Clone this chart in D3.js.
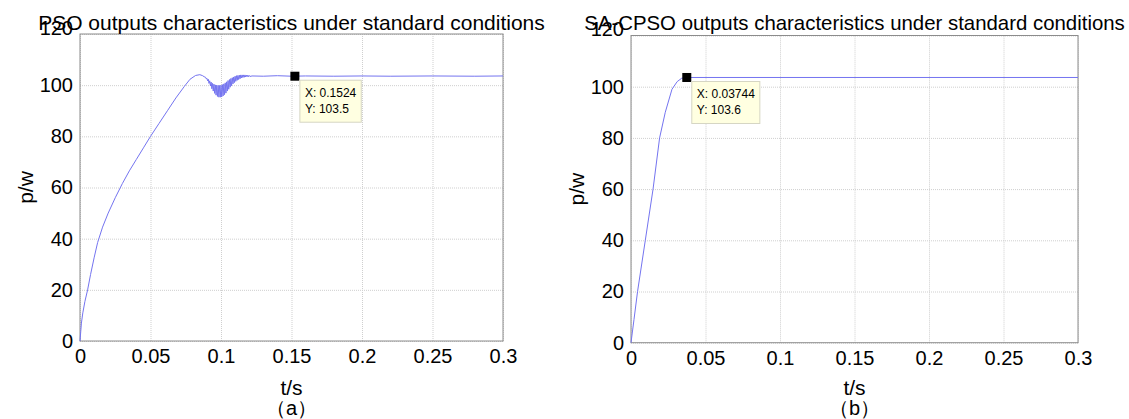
<!DOCTYPE html>
<html>
<head>
<meta charset="utf-8">
<script src="https://cdn.jsdelivr.net/npm/d3@7"></script>
<style>
  body { margin: 0; background: #fff; }
  svg { display: block; font-family: "Liberation Sans", Arial, sans-serif; }
</style>
</head>
<body>
<svg id="chart" width="1129" height="419"></svg>
<script>
const W = 1129, H = 419

// axis ticks
const xTicks = [0, 0.05, 0.1, 0.15, 0.2, 0.25, 0.3]
const xTickLabels = ["0", "0.05", "0.1", "0.15", "0.2", "0.25", "0.3"]
const yTicks = [0, 20, 40, 60, 80, 100, 120]

// PSO output, rise + peak (t in s, p in W)
const psoT = [0, 0.001, 0.002, 0.0035, 0.0054, 0.0075, 0.010, 0.0125, 0.016, 0.020, 0.025, 0.030,
  0.035, 0.040, 0.045, 0.050, 0.056, 0.062, 0.068, 0.074, 0.078, 0.082, 0.085, 0.087, 0.088]
const psoP = [0, 7, 11, 15.5, 20, 26, 32.5, 38.5, 44.5, 50, 56, 61.5,
  66.5, 71, 75.5, 80, 85, 90, 95, 99.5, 102.3, 103.8, 104.1, 103.7, 103.3]

// PSO oscillating dip around t = 0.1 (upper / lower swing of each ripple)
const dipT = [0.089, 0.090, 0.091, 0.092, 0.093, 0.094, 0.095, 0.096, 0.097, 0.098, 0.099, 0.100,
  0.101, 0.102, 0.103, 0.104, 0.105, 0.106, 0.107, 0.108, 0.109, 0.110, 0.111, 0.112,
  0.113, 0.114, 0.115, 0.116, 0.117, 0.118, 0.119, 0.120]
const dipHi = [103.1, 102.7, 102.3, 101.7, 101.2, 100.7, 100.4, 100.1, 100.0, 99.9, 99.9, 100.0,
  100.2, 100.5, 100.9, 101.3, 101.8, 102.2, 102.6, 102.9, 103.2, 103.5, 103.7, 103.8,
  103.9, 104.0, 104.0, 104.0, 104.0, 103.9, 103.9, 103.8]
const dipLo = [102.5, 101.7, 100.7, 99.7, 98.6, 97.7, 96.8, 96.1, 95.6, 95.3, 95.3, 95.4,
  95.8, 96.3, 96.9, 97.7, 98.4, 99.2, 99.8, 100.5, 101.0, 101.5, 101.9, 102.2,
  102.5, 102.8, 103.0, 103.1, 103.2, 103.3, 103.3, 103.4]

// PSO steady state
const psoTailT = [0.122, 0.13, 0.14, 0.15, 0.16, 0.18, 0.2, 0.22, 0.25, 0.28, 0.3]
const psoTailP = [103.6, 103.5, 103.7, 103.5, 103.6, 103.5, 103.6, 103.5, 103.6, 103.5, 103.6]

// SA-CPSO output
const saT = [0, 0.002, 0.0044, 0.0096, 0.0148, 0.0192, 0.023, 0.0275, 0.031, 0.034, 0.0374, 0.3]
const saP = [0, 9, 20, 40, 60, 80, 90, 99, 102, 103.3, 103.6, 103.6]

const titles = ["PSO outputs characteristics under standard conditions",
  "SA-CPSO outputs characteristics under standard conditions"]
const captions = ["（a）", "（b）"]
const tipX = [0.1524, 0.03744]
const tipY = [103.5, 103.6]
const tipLabels = [["X: 0.1524", "Y: 103.5"], ["X: 0.03744", "Y: 103.6"]]

// build point lists
const psoData = psoT.map((t, i) => [t, psoP[i]])
dipT.forEach((t, i) => {
  psoData.push([t, dipHi[i]])
  psoData.push([t + 0.0005, dipLo[i]])
})
psoTailT.forEach((t, i) => psoData.push([t, psoTailP[i]]))
const saData = saT.map((t, i) => [t, saP[i]])

const svg = d3.select("#chart")

const panels = [
  { left: 80, right: 503, top: 34, bottom: 341, data: psoData, titleSize: 21 },
  { left: 631, right: 1078, top: 35.5, bottom: 342.7, data: saData, titleSize: 20.4 }
]

panels.forEach((p, k) => drawPanel(p, k))

function drawPanel(p, k) {
  const x = d3.scaleLinear().domain([0, 0.3]).range([p.left, p.right])
  const y = d3.scaleLinear().domain([0, 120]).range([p.bottom, p.top])
  const g = svg.append("g")
  const pw = p.right - p.left, ph = p.bottom - p.top

  // grid
  const gx = g.append("g").attr("transform", `translate(0,${p.bottom})`)
    .call(d3.axisBottom(x).tickValues(xTicks).tickSize(-ph).tickFormat(""))
  const gy = g.append("g").attr("transform", `translate(${p.left},0)`)
    .call(d3.axisLeft(y).tickValues(yTicks).tickSize(-pw).tickFormat(""))
  ;[gx, gy].forEach(a => {
    a.select(".domain").remove()
    a.selectAll("line").attr("stroke", "#cfcfcf").attr("stroke-dasharray", "1,1")
  })

  // box
  g.append("rect").attr("x", p.left).attr("y", p.top).attr("width", pw).attr("height", ph)
    .attr("fill", "none").attr("stroke", "#8c8c8c").attr("stroke-width", 1)

  // tick labels
  const ax = g.append("g").attr("transform", `translate(0,${p.bottom})`)
    .call(d3.axisBottom(x).tickValues(xTicks).tickSize(0).tickPadding(8)
      .tickFormat((d, i) => xTickLabels[i]))
  const ay = g.append("g").attr("transform", `translate(${p.left},0)`)
    .call(d3.axisLeft(y).tickValues(yTicks).tickSize(0).tickPadding(7))
  ;[ax, ay].forEach(a => {
    a.select(".domain").remove()
    a.selectAll("text").attr("font-size", 20).attr("fill", "#000")
      .attr("font-family", "Liberation Sans, Arial, sans-serif")
  })
  ay.selectAll(".tick").filter(d => d === 120).select("text").attr("dy", "0.02em")

  // curve
  const line = d3.line().x(d => x(d[0])).y(d => y(d[1]))
  g.append("path").datum(p.data).attr("d", line)
    .attr("fill", "none").attr("stroke", "#7474f0").attr("stroke-width", 1)

  // data tip
  const mx = x(tipX[k]), my = y(tipY[k])
  g.append("rect").attr("x", mx - 4.5).attr("y", my - 4.5).attr("width", 9).attr("height", 9)
    .attr("fill", "#000")
  const tip = g.append("g").attr("transform", `translate(${mx + 5},${my + 4})`)
  const box = tip.append("rect").attr("height", 42)
    .attr("fill", "#ffffe1").attr("stroke", "#d6d6c4").attr("stroke-width", 1)
  const txt = tip.selectAll("text").data(tipLabels[k]).join("text")
    .attr("x", 5).attr("y", (d, i) => 17 + i * 16)
    .attr("font-size", 12).attr("fill", "#000").text(d => d)
  const tw = d3.max(txt.nodes(), n => n.getComputedTextLength())
  box.attr("width", tw + 10)

  // labels
  const cx = (p.left + p.right) / 2
  g.append("text").attr("x", cx).attr("y", 30).attr("text-anchor", "middle")
    .attr("font-size", p.titleSize).text(titles[k])
  g.append("text").attr("x", cx).attr("y", 395).attr("text-anchor", "middle")
    .attr("font-size", 21).text("t/s")
  g.append("text").attr("x", cx).attr("y", 415).attr("text-anchor", "middle")
    .attr("font-size", 20).text(captions[k])
  g.append("text").attr("transform", `translate(${p.left - 47},${(p.top + p.bottom) / 2}) rotate(-90)`)
    .attr("text-anchor", "middle").attr("font-size", 21).text("p/w")
}
</script>
</body>
</html>
